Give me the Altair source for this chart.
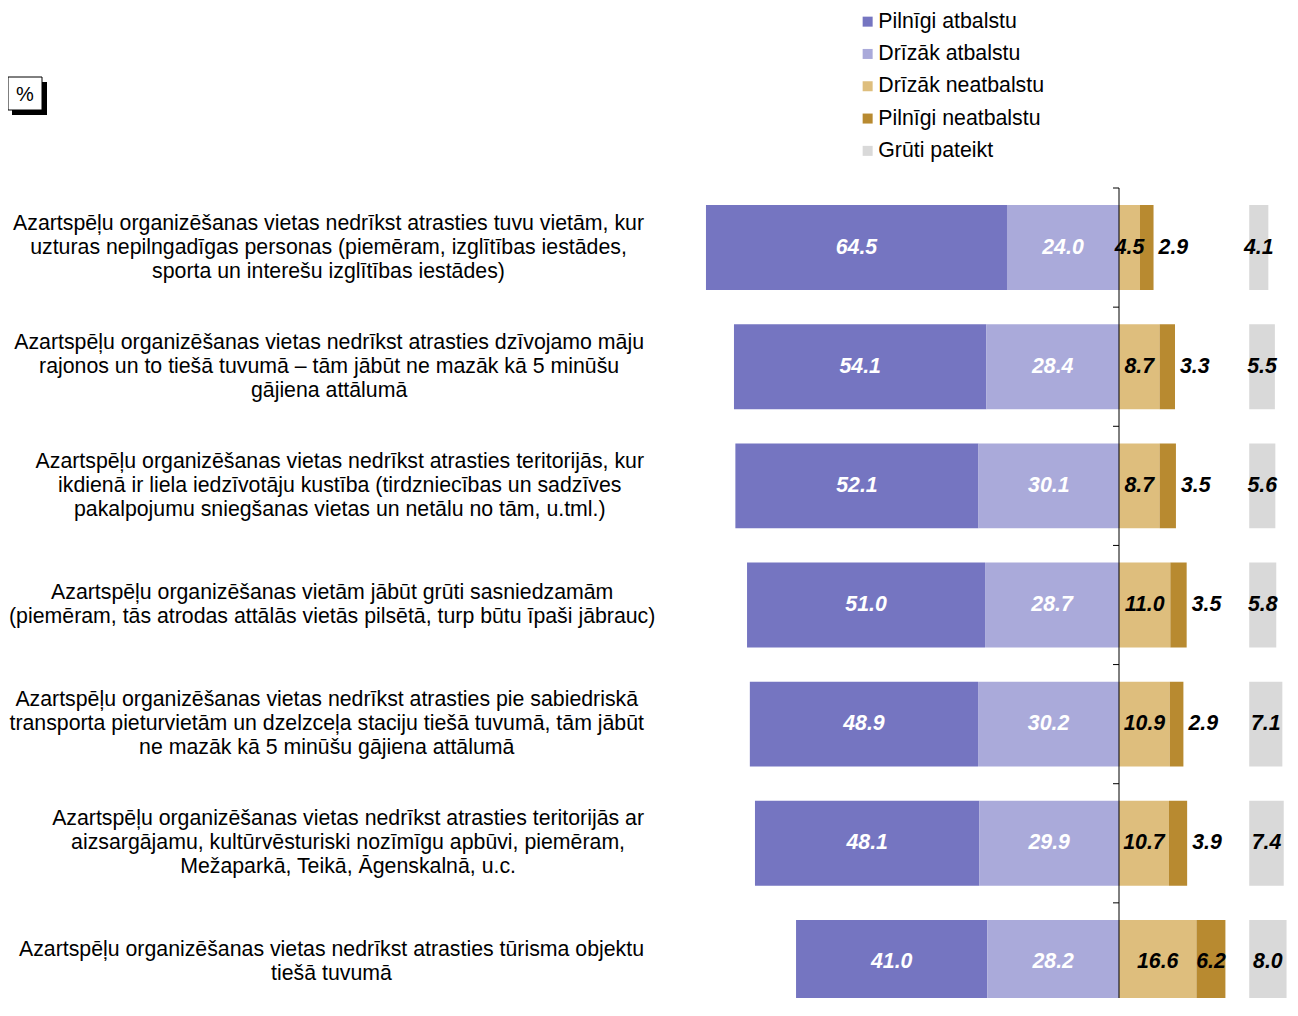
import altair as alt
import pandas as pd
import unicodedata

# ---------------- data ----------------
statements = [
    "Azartspēļu organizēšanas vietas nedrīkst atrasties tuvu vietām, kur|uzturas nepilngadīgas personas (piemēram, izglītības iestādes,|sporta un interešu izglītības iestādes)",
    "Azartspēļu organizēšanas vietas nedrīkst atrasties dzīvojamo māju|rajonos un to tiešā tuvumā – tām jābūt ne mazāk kā 5 minūšu|gājiena attālumā",
    "Azartspēļu organizēšanas vietas nedrīkst atrasties teritorijās, kur|ikdienā ir liela iedzīvotāju kustība (tirdzniecības un sadzīves|pakalpojumu sniegšanas vietas un netālu no tām, u.tml.)",
    "Azartspēļu organizēšanas vietām jābūt grūti sasniedzamām|(piemēram, tās atrodas attālās vietās pilsētā, turp būtu īpaši jābrauc)",
    "Azartspēļu organizēšanas vietas nedrīkst atrasties pie sabiedriskā|transporta pieturvietām un dzelzceļa staciju tiešā tuvumā, tām jābūt|ne mazāk kā 5 minūšu gājiena attālumā",
    "Azartspēļu organizēšanas vietas nedrīkst atrasties teritorijās ar|aizsargājamu, kultūrvēsturiski nozīmīgu apbūvi, piemēram,|Mežaparkā, Teikā, Āgenskalnā, u.c.",
    "Azartspēļu organizēšanas vietas nedrīkst atrasties tūrisma objektu|tiešā tuvumā",
]
pilnigi_atbalstu = [64.5, 54.1, 52.1, 51.0, 48.9, 48.1, 41.0]
drizak_atbalstu = [24.0, 28.4, 30.1, 28.7, 30.2, 29.9, 28.2]
drizak_neatbalstu = [4.5, 8.7, 8.7, 11.0, 10.9, 10.7, 16.6]
pilnigi_neatbalstu = [2.9, 3.3, 3.5, 3.5, 2.9, 3.9, 6.2]
gruti_pateikt = [4.1, 5.5, 5.6, 5.8, 7.1, 7.4, 8.0]

categories = ["Pilnīgi atbalstu", "Drīzāk atbalstu", "Drīzāk neatbalstu",
              "Pilnīgi neatbalstu", "Grūti pateikt"]
colors = ["#7575C1", "#AAAADA", "#DEBE7D", "#B88A30", "#D9D9D9"]

# ---------------- layout constants ----------------
FONT = "Liberation Sans"
W, H = 1282, 810
TOP = 180
BAND_RANGE = 834
N = len(statements)
ZERO_PX = 1111.0
PPU = 4.667
X_DOMAIN = [-ZERO_PX / PPU, (W - ZERO_PX) / PPU]
GP_OFFSET = 27.9      # start of the separate "Grūti pateikt" column
LABEL_FS = 21.3
LABEL_RIGHT = 636
LINE_H = 24

# Arial / Liberation Sans advance widths (1/1000 em)
AW = {'a': 556, 'b': 556, 'c': 500, 'd': 556, 'e': 556, 'f': 278, 'g': 556, 'h': 556,
      'i': 222, 'j': 222, 'k': 500, 'l': 222, 'm': 833, 'n': 556, 'o': 556, 'p': 556,
      'q': 556, 'r': 333, 's': 500, 't': 278, 'u': 556, 'v': 500, 'w': 722, 'x': 500,
      'y': 500, 'z': 500, 'A': 667, 'M': 833, 'T': 611, ' ': 278, ',': 278, '.': 278,
      '(': 333, ')': 333, '–': 556, 'ī': 278}


def text_width(s, fs):
    tot = 0
    for ch in s:
        if ch in AW:
            tot += AW[ch]
        elif ch.isdigit():
            tot += 556
        else:
            base = unicodedata.normalize("NFD", ch)[0]
            tot += AW.get(base, 556)
    return tot / 1000.0 * fs


ids = [f"S{i+1}" for i in range(N)]

seg_rows, lab_rows = [], []
for i, sid in enumerate(ids):
    pa, da, dn, pn, g = (pilnigi_atbalstu[i], drizak_atbalstu[i], drizak_neatbalstu[i],
                         pilnigi_neatbalstu[i], gruti_pateikt[i])
    segs = [
        (categories[0], -(pa + da), -da, pa),
        (categories[1], -da, 0.0, da),
        (categories[2], 0.0, dn, dn),
        (categories[3], dn, dn + pn, pn),
        (categories[4], GP_OFFSET, GP_OFFSET + g, g),
    ]
    for cat, a, b, v in segs:
        if cat in categories[:2]:
            kind = "white"
        elif cat == categories[3] and v < 5:
            kind = "outside"
        else:
            kind = "black"
        seg_rows.append(dict(sid=sid, cat=cat, x=a, x2=b, mid=(a + b) / 2,
                             val=v, lab=f"{v:.1f}", kind=kind))
    lines = statements[i].split("|")
    maxw = max(text_width(line, LABEL_FS) for line in lines)
    lx = max(LABEL_RIGHT - maxw / 2, maxw / 2 + 1)
    lab_rows.append(dict(sid=sid, text=statements[i], lx=lx, nlines=len(lines)))

seg_df = pd.DataFrame(seg_rows)
lab_df = pd.DataFrame(lab_rows)
bound_df = pd.DataFrame({"b": list(range(N + 1))})
zero_df = pd.DataFrame({"z": [0.0]})

y_scale = alt.Scale(domain=ids, range=[0, BAND_RANGE], paddingInner=0.287, paddingOuter=0.1435)
x_scale = alt.Scale(domain=X_DOMAIN, nice=False, zero=False)
b_scale = alt.Scale(domain=[0, N], range=[0, BAND_RANGE], nice=False, zero=False)

bars = alt.Chart(seg_df).mark_bar().encode(
    y=alt.Y("sid:N", sort=ids, scale=y_scale, axis=None),
    x=alt.X("x:Q", scale=x_scale, axis=None),
    x2="x2:Q",
    color=alt.Color("cat:N", scale=alt.Scale(domain=categories, range=colors),
                    legend=alt.Legend(title=None, orient="none", legendX=849, legendY=-177,
                                      symbolType="square", symbolSize=100,
                                      symbolStrokeWidth=0, symbolOpacity=1,
                                      labelFont=FONT, labelFontSize=21.3, labelColor="black",
                                      labelLimit=400, rowPadding=10.3, labelOffset=0,
                                      padding=0)),
)

# central axis line and category separator ticks
axis_line = alt.Chart(zero_df).mark_rule(color="black", strokeWidth=1).encode(
    x=alt.X("z:Q", scale=x_scale, axis=None),
    y=alt.value(0), y2=alt.value(BAND_RANGE))
axis_ticks = alt.Chart(bound_df).mark_rule(color="black", strokeWidth=1).encode(
    y=alt.Y("b:Q", scale=b_scale, axis=None),
    x=alt.value(ZERO_PX - 6), x2=alt.value(ZERO_PX))

val_style = dict(font=FONT, fontSize=21.3, fontWeight="bold", fontStyle="italic",
                 baseline="middle")

white_labels = alt.Chart(seg_df).transform_filter(alt.datum.kind == "white").mark_text(
    align="center", color="white", **val_style).encode(
    y=alt.Y("sid:N", sort=ids, scale=y_scale, axis=None),
    x=alt.X("mid:Q", scale=x_scale, axis=None),
    text="lab:N")

black_labels = alt.Chart(seg_df).transform_filter(alt.datum.kind == "black").mark_text(
    align="center", color="black", **val_style).encode(
    y=alt.Y("sid:N", sort=ids, scale=y_scale, axis=None),
    x=alt.X("mid:Q", scale=x_scale, axis=None),
    text="lab:N")

outside_labels = alt.Chart(seg_df).transform_filter(alt.datum.kind == "outside").mark_text(
    align="left", dx=5, color="black", **val_style).encode(
    y=alt.Y("sid:N", sort=ids, scale=y_scale, axis=None),
    x=alt.X("x2:Q", scale=x_scale, axis=None),
    text="lab:N")


def stmt_layer(n):
    return alt.Chart(lab_df).transform_filter(alt.datum.nlines == n).mark_text(
        align="center", baseline="middle", lineBreak="|", lineHeight=LINE_H,
        dy=-(n - 1) * LINE_H / 2,
        font=FONT, fontSize=LABEL_FS, color="black").encode(
        y=alt.Y("sid:N", sort=ids, scale=y_scale, axis=None),
        x=alt.X("lx:Q", scale=None),
        text="text:N")


stmt3 = stmt_layer(3)
stmt2 = stmt_layer(2)

# "%" box with shadow
pct_df = pd.DataFrame({"t": ["%"]})
shadow = alt.Chart(pct_df).mark_rect(color="black").encode(
    x=alt.value(4), x2=alt.value(39), y=alt.value(-106), y2=alt.value(-73))
box = alt.Chart(pct_df).mark_rect(fill="white", stroke="black", strokeWidth=1).encode(
    x=alt.value(0), x2=alt.value(34), y=alt.value(-111), y2=alt.value(-78))
pct_text = alt.Chart(pct_df).mark_text(font=FONT, fontSize=20, color="black",
                                        align="center", baseline="middle").encode(
    x=alt.value(17), y=alt.value(-93), text="t:N")

chart = alt.layer(
    bars, axis_line, axis_ticks, white_labels, black_labels, outside_labels,
    stmt3, stmt2, shadow, box, pct_text
).resolve_scale(y="independent").properties(
    width=W, height=H,
    autosize=alt.AutoSizeParams(type="none"),
    padding={"left": 0, "top": TOP, "right": 0, "bottom": 0},
    background="white",
).configure_view(stroke=None)

chart.save("out.html", embed_options={"renderer": "svg", "actions": False})
